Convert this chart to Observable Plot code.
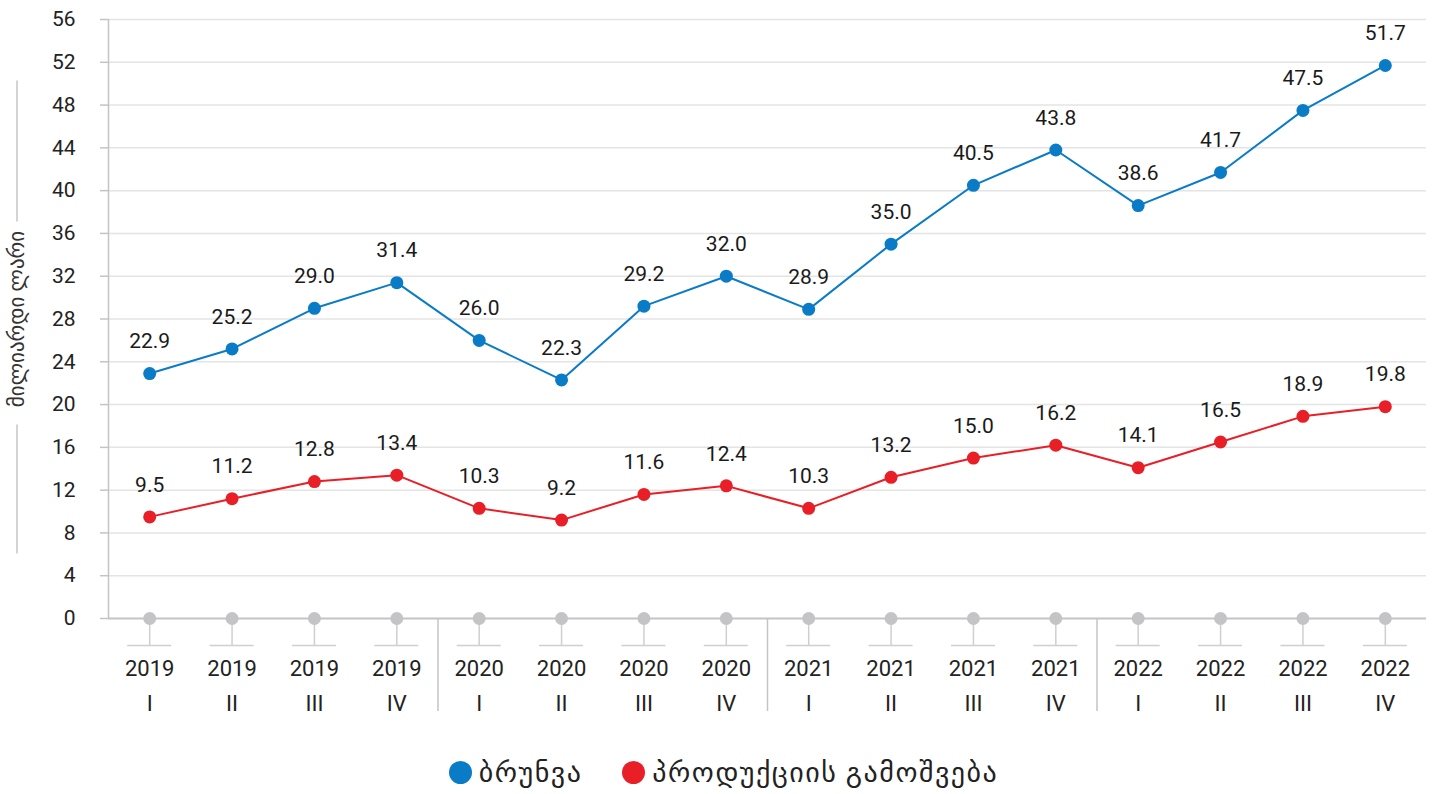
<!DOCTYPE html>
<html><head><meta charset="utf-8">
<script src="https://cdn.jsdelivr.net/npm/d3@7"></script>
<script src="https://cdn.jsdelivr.net/npm/@observablehq/plot@0.6"></script>
<style>
body{margin:0;background:#fff;font-family:Roboto,"DejaVu Sans",sans-serif;}
#legend{display:flex;justify-content:center;align-items:center;height:44px;padding-left:14px;font-size:28px;letter-spacing:1.5px;color:#222;}
.item{display:flex;align-items:center;margin:0 20px;}
.sw{width:23px;height:23px;border-radius:50%;margin-right:7px;}
</style></head><body><div id="chart"></div><div id="legend"></div>
<script>
const years = ["2019","2019","2019","2019","2020","2020","2020","2020","2021","2021","2021","2021","2022","2022","2022","2022"];
const quarters = ["I","II","III","IV","I","II","III","IV","I","II","III","IV","I","II","III","IV"];
const turnover = [22.9,25.2,29.0,31.4,26.0,22.3,29.2,32.0,28.9,35.0,40.5,43.8,38.6,41.7,47.5,51.7];
const output = [9.5,11.2,12.8,13.4,10.3,9.2,11.6,12.4,10.3,13.2,15.0,16.2,14.1,16.5,18.9,19.8];
const yTicks = [0,4,8,12,16,20,24,28,32,36,40,44,48,52,56];
const seriesNames = ["ბრუნვა","პროდუქციის გამოშვება"];
const colors = ["#0a7bc6","#e91f27"];
const yLabel = "მილიარდი ლარი";

const cats = years.map((y,i)=>y+" "+quarters[i]);
const rows = cats.map((c,i)=>({cat:c, year:years[i], q:quarters[i], a:turnover[i], b:output[i]}));
const yearStarts = rows.filter((r,i)=>i>0 && r.q==="I");

const W=1433, H=750, ML=108, MR=7, MT=19, MB=132;
const step = (W-ML-MR)/cats.length;
const grey="#c4c4c6";

const plot = Plot.plot({
  width:W, height:H, marginLeft:ML, marginRight:MR, marginTop:MT, marginBottom:MB,
  style:{fontFamily:'Roboto,"DejaVu Sans",sans-serif', color:"#222", background:"#fff"},
  x:{type:"point", domain:cats, padding:0.5, round:false, axis:null},
  y:{domain:[0,56], ticks:yTicks, axis:null},
  marks:[
    Plot.gridY(yTicks.filter(t=>t>0), {stroke:"#e4e4e4", strokeOpacity:1, strokeWidth:1.5}),
    Plot.axisY(yTicks, {tickSize:8, tickPadding:25, fontSize:21, stroke:grey, strokeWidth:1.5, label:null}),
    Plot.ruleX(rows.slice(0,1), {x:"cat", dx:-step/2, y1:()=>0, y2:()=>56, stroke:grey, strokeWidth:1.5}),
    Plot.ruleY([0], {stroke:grey, strokeWidth:2}),
    Plot.ruleX(rows, {x:"cat", y1:()=>0, y2:()=>0, insetBottom:-27, stroke:"#cfcfcf", strokeWidth:1.5}),
    Plot.ruleY(rows, {x1:"cat", x2:"cat", y:()=>0, dy:27, insetLeft:-22, insetRight:-22, stroke:"#cfcfcf", strokeWidth:1.5}),
    Plot.ruleX(yearStarts, {x:"cat", y1:()=>0, y2:()=>0, dx:-step/2, insetBottom:-93, stroke:grey, strokeWidth:1.5}),
    Plot.dot(rows, {x:"cat", y:()=>0, r:6.5, fill:grey, stroke:null}),
    Plot.text(rows, {x:"cat", frameAnchor:"bottom", lineAnchor:"middle", dy:50, text:"year", fontSize:22, fill:"#222"}),
    Plot.text(rows, {x:"cat", frameAnchor:"bottom", lineAnchor:"middle", dy:85, text:"q", fontSize:22, fill:"#222"}),
    Plot.line(rows, {x:"cat", y:"a", stroke:colors[0], strokeWidth:2}),
    Plot.line(rows, {x:"cat", y:"b", stroke:colors[1], strokeWidth:2}),
    Plot.dot(rows, {x:"cat", y:"a", r:6.5, fill:colors[0]}),
    Plot.dot(rows, {x:"cat", y:"b", r:6.5, fill:colors[1]}),
    Plot.text(rows, {x:"cat", y:"a", text:d=>d.a.toFixed(1), dy:-32, fontSize:21, fill:"#1a1a1a"}),
    Plot.text(rows, {x:"cat", y:"b", text:d=>d.b.toFixed(1), dy:-32, fontSize:21, fill:"#1a1a1a"}),
    Plot.text([yLabel], {frameAnchor:"left", textAnchor:"middle", lineAnchor:"middle", dx:-91, rotate:-90, text:d=>d, fontSize:21, fill:"#333"})
  ]
});
document.getElementById("chart").appendChild(plot);

// y-label bracket lines
const svg = d3.select(plot);
const cy = (MT + (H-MB))/2;
[[cy-238, cy-97],[cy+106, cy+235]].forEach(([a,b])=>{
  svg.append("line").attr("x1",17).attr("x2",17).attr("y1",a).attr("y2",b)
    .attr("stroke","#b8b8b8").attr("stroke-width",1.2);
});

const lg = document.getElementById("legend");
seriesNames.forEach((n,i)=>{
  const it=document.createElement("div"); it.className="item";
  it.innerHTML=`<span class="sw" style="background:${colors[i]}"></span><span>${n}</span>`;
  lg.appendChild(it);
});
</script></body></html>
